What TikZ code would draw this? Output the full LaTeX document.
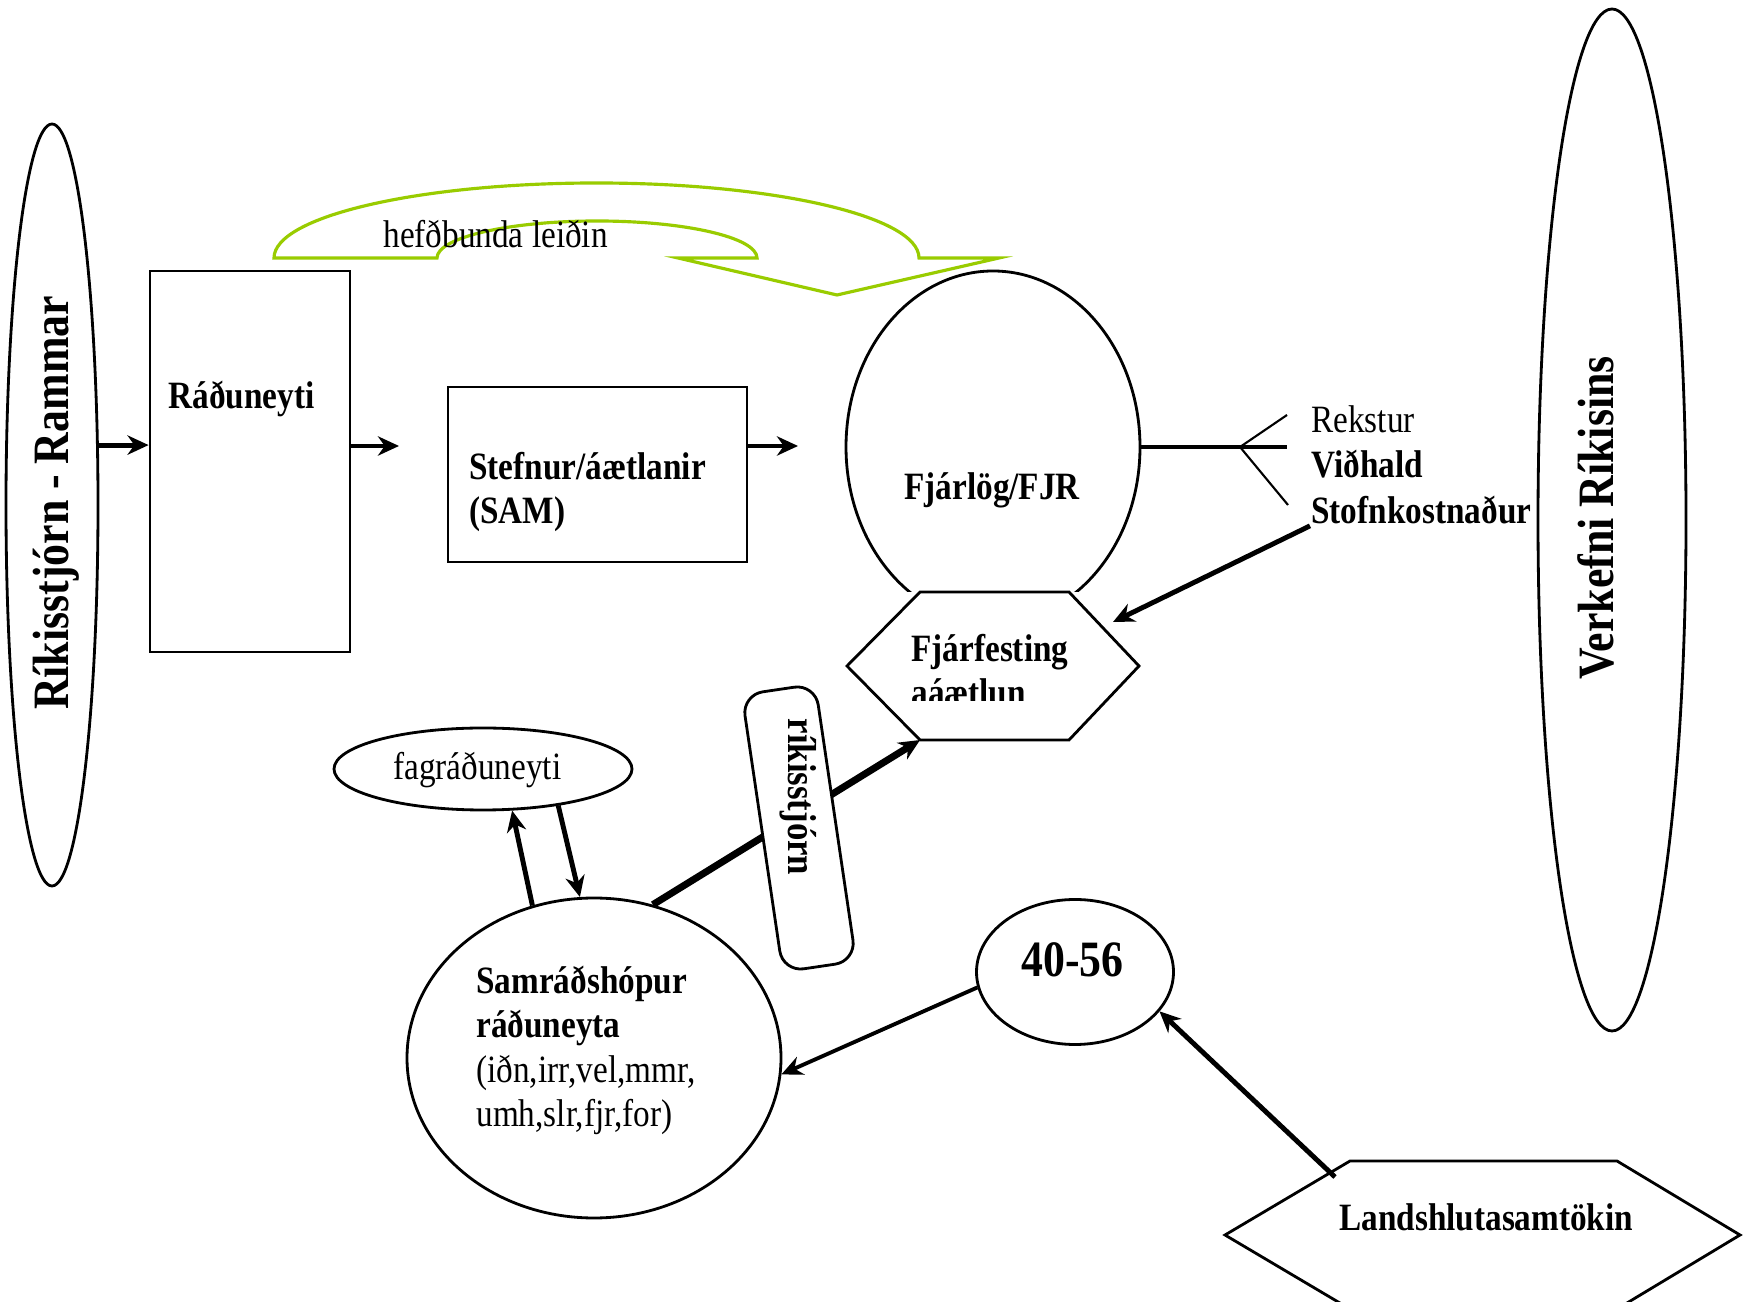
\documentclass[tikz,border=0pt]{standalone}
\usepackage{fontspec}
\setmainfont{Liberation Serif}[FakeStretch=0.86]
\usetikzlibrary{shapes.geometric,arrows.meta}
\definecolor{leaf}{HTML}{99CC00}
\begin{document}
\begin{tikzpicture}[x=0.1mm,y=-0.1mm,line width=0.8pt,
	>={Stealth[length=6pt,width=5.5pt]},
	lab/.style={anchor=base west,inner sep=0pt,font=\fontsize{11}{12.8}\selectfont},
	blab/.style={lab,font=\fontsize{11}{12.8}\selectfont\bfseries},
	big/.style={inner sep=0pt,font=\fontsize{14.5}{16}\selectfont\bfseries},
	pil/.style={->,line width=1.4pt},
	oval/.style={draw,ellipse,inner sep=0pt}]
	\useasboundingbox (0,0) rectangle (1748,1302);
	\fill[white] (0,0) rectangle (1748,1302);
	\node[oval,minimum width=0.92cm,minimum height=7.62cm] (rammar) at (52,505) {};
	\node[big,rotate=90] (rammartxt) at (56,503) {Ríkisstjórn - Rammar};
	\node[oval,minimum width=1.48cm,minimum height=10.22cm] (verkefni) at (1612,520) {};
	\node[big,rotate=90] (verktxt) at (1596,518) {Verkefni Ríkisins};
	\node[draw,minimum width=2cm,minimum height=3.81cm,inner sep=0pt] (radu) at (250,461.5) {};
	\node[blab] (radutxt) at (167,409) {Ráðuneyti};
	\node[draw,minimum width=2.99cm,minimum height=1.75cm,inner sep=0pt] (stefnur) at (597.5,474.5) {};
	\node[blab,align=left] (stefnutxt) at (468,524) {Stefnur/áætlanir\\(SAM)};
	\coordinate (a1) at (399,446);
	\coordinate (a2) at (798,446);
	\draw[pil] (rammar.52) -- (rammar.52 -| radu.west);
	\draw[pil] (a1 -| radu.east) -- (a1);
	\draw[pil] (a2 -| stefnur.east) -- (a2);
	\begin{scope}
		\clip (800,250) rectangle (1200,592);
		\node[oval,minimum width=2.94cm,minimum height=3.52cm] (fjarlog) at (993,447) {};
	\end{scope}
	\node[blab] (fjrtxt) at (903,500) {Fjárlög/FJR};
	\coordinate (hw) at (847,666);
	\coordinate (hnw) at (920,592);
	\coordinate (hne) at (1069,592);
	\coordinate (he) at (1139,666);
	\coordinate (hse) at (1069,740);
	\coordinate (hsw) at (920,740);
	\draw (hw) -- (hnw) -- (hne) -- (he) -- (hse) -- (hsw) -- cycle;
	\begin{scope}
		\clip (850,600) rectangle (1130,701);
		\node[blab,align=left] (fjfest) at (910,706) {Fjárfesting\\aáætlun};
	\end{scope}
	\coordinate (kvisl) at (1240,447);
	\coordinate (k1) at (1287,447);
	\coordinate (k2) at (1287,415);
	\coordinate (k3) at (1288,505);
	\draw[line width=1.1pt] (fjarlog.east) -- (k1);
	\draw[line width=0.6pt] (k2) -- (kvisl) -- (k3);
	\node[lab] (rekstur) at (1310,433) {Rekstur};
	\node[blab] (vidhald) at (1310,478) {Viðhald};
	\node[blab] (stofn) at (1310,524) {Stofnkostnaður};
	\coordinate (a3) at (1113,622);
	\draw[pil] (stofn.south west) -- (a3);
	\node[oval,minimum width=3.74cm,minimum height=3.2cm] (samrad) at (594,1058) {};
	\node[blab,align=left] (samtxt) at (475,1038) {Samráðshópur\\ráðuneyta};
	\node[lab,align=left] (samtxt2) at (475,1127) {(iðn,irr,vel,mmr,\\umh,slr,fjr,for)};
	\node[oval,minimum width=2.98cm,minimum height=0.82cm] (fagr) at (483,769) {};
	\node[lab] (fagrtxt) at (392,780) {fagráðuneyti};
	\draw[pil] (samrad.112) -- (fagr.-55);
	\draw[pil] (fagr.-26) -- (samrad.95);
	\node[oval,minimum width=1.97cm,minimum height=1.45cm] (tala) at (1075,972) {};
	\node[big,anchor=base west] (talatxt) at (1020,977) {40-56};
	\draw[->,line width=1.1pt] (tala.189) -- (samrad.-5);
	\coordinate (lw) at (1225,1235);
	\coordinate (lnw) at (1350,1161);
	\coordinate (lne) at (1617,1161);
	\coordinate (le) at (1740,1235);
	\coordinate (lse) at (1617,1309);
	\coordinate (lsw) at (1350,1309);
	\draw (lw) -- (lnw) -- (lne) -- (le) -- (lse) -- (lsw) -- cycle;
	\node[blab] (landtxt) at (1338,1230) {Landshlutasamtökin};
	\coordinate (a4) at (1335,1177);
	\draw[pil] (a4) -- (tala.-25);
	\draw[->,line width=2pt] (samrad.69) -- (hsw);
	\node[draw,fill=white,rounded corners=6pt,minimum width=2.8cm,minimum height=0.74cm,rotate=-81.6] (rikbox) at (799,828) {};
	\node[inner sep=0pt,rotate=-90,font=\fontsize{11.5}{12.8}\selectfont\bfseries] (riktxt) at (798,797) {ríkisstjórn};
	\draw[leaf,line width=0.9pt] (274,258) arc[start angle=180,end angle=360,x radius=322.5,y radius=75] -- (999,258) -- (837,295) -- (678,258) -- (757,258) arc[start angle=0,end angle=-180,x radius=160,y radius=37] -- cycle;
	\node[lab] (hefd) at (382,248) {hefðbunda leiðin};
\end{tikzpicture}
\end{document}
